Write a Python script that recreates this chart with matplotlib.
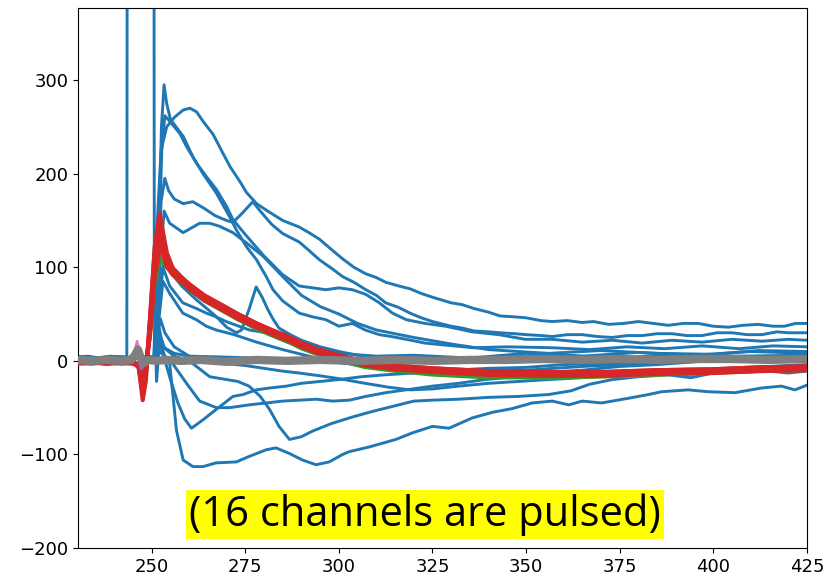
import matplotlib
matplotlib.use("Agg")
import matplotlib.pyplot as plt

# ---- waveform data: sample time (ns) vs amplitude (ADC counts) ----

# pulsed channel: saturates off-scale between the two edges
pulse_t = [230, 233, 236, 239, 242, 243.35, 243.6, 250.45, 250.7, 251.3, 252.2, 253.4, 256, 260, 270, 285, 300, 330, 360, 390, 425]
pulse_v = [4, 5, 3, 5, 4, 4, 1200, 1200, 60, -22, 28, 14, 8, 5, 4, 2, 3, 1, 3, 2, 3]

hump_t = [230, 240, 249.5, 250.6, 251.5, 252.5, 254, 256, 258.4, 260.2, 262, 263.7, 266.4, 269, 271, 273.5, 275.3, 278, 281, 285,
          289.4, 292, 294.8, 298, 301, 304, 307.2, 310, 312.5, 316, 319, 322, 325, 330, 333, 336, 340, 343, 347, 350, 354, 357,
          361, 365, 368, 372, 376, 380, 384, 388, 392, 396, 400, 404, 408, 412, 416, 419, 422, 425]
hump_v = [3, 4, 3, 5, 150, 225, 250, 260, 268, 270, 266, 256, 242, 222, 207, 192, 180, 168, 160, 150,
          143, 137, 130, 119, 109, 100, 93, 89, 84, 80, 77, 72, 68, 62, 60, 56, 52, 48, 47, 46, 43, 42,
          43, 41, 42, 39, 40, 42, 40, 38, 40, 40, 37, 36, 38, 39, 37, 37, 40, 40]

tent_t = [230, 240, 249.5, 250.6, 251.5, 252.5, 253.5, 254.5, 256, 258.4, 261, 264, 267, 270, 271.7, 274, 277, 279, 282, 285,
          289.4, 292, 294.8, 298, 301, 304, 307.2, 310, 312.5, 316, 319, 322, 325, 330, 333, 336, 340, 343, 347, 350, 354, 357,
          361, 365, 369, 373, 377, 381, 385, 389, 393, 397, 401, 405, 409, 413, 417, 420, 425]
tent_v = [4, 3, 4, 4, 80, 170, 195, 182, 173, 168, 170, 163, 155, 150, 148, 157, 170, 160, 146, 136,
          127, 118, 108, 99, 90, 84, 76, 70, 62, 57, 51, 46, 42, 37, 35, 32, 31, 30, 29, 28, 27, 26,
          28, 28, 26, 25, 27, 27, 29, 29, 27, 27, 30, 30, 28, 28, 31, 30, 30]

spike_t = [230, 240, 249.5, 250.8, 251.8, 252.6, 253.3, 254, 255, 256.5, 258.4, 261, 263.7, 267.3, 270.8, 272.6, 275.3, 278,
           280.6, 282.4, 285, 289.4, 293, 296.5, 300, 303.6, 307, 310.8, 314, 318, 323, 328, 336, 345, 357, 367, 377, 387,
           397, 407, 416, 425]
spike_v = [3, 4, 3, 5, 120, 250, 295, 275, 258, 250, 240, 218, 200, 179, 154, 140, 122, 108,
           90, 76, 64, 51, 47, 44, 37, 40, 33, 28, 26, 23, 19, 17, 14, 15, 14, 12, 15, 13,
           16, 13, 16, 15]

second_t = [230, 240, 249.5, 250.8, 251.8, 252.7, 253.5, 254.8, 257.5, 259.3, 262, 264.6, 267.3, 270, 271.7, 275, 280, 285,
            289.4, 293, 296.5, 300, 303.6, 307.2, 310.8, 314.3, 318, 323, 328.5, 335.6, 342.7, 349.8, 357, 365, 373, 381,
            389, 397, 405, 413, 420, 425]
second_v = [4, 3, 4, 3, 110, 225, 262, 256, 243, 229, 211, 197, 183, 165, 151, 135, 112, 92,
            80, 78, 76, 78, 76, 71, 62, 51, 44, 40, 37, 31, 28, 23, 23, 20, 22, 19,
            22, 20, 23, 21, 23, 22]

mid_t = [230, 240, 249.5, 250.8, 252, 253.3, 254.8, 258.4, 262.8, 265.5, 268, 271.7, 275.3, 279.7, 285, 290, 295, 300, 305,
         310, 320, 330, 340, 356, 370, 385, 400, 412, 425]
mid_v = [3, 4, 4, 3, 90, 160, 147, 137, 147, 147, 144, 137, 126, 112, 90, 70, 58, 50, 40,
         33, 25, 18, 12, 8, 11, 8, 7, 11, 10]

low1_t = [230, 240, 249.5, 250.8, 251.6, 253, 254.8, 258.3, 261.9, 264.6, 267.2, 269.9, 272.6, 276.1, 280.5, 285, 289.4, 294.8,
          300, 310, 320, 335, 350, 365, 380, 395, 410, 425]
low1_v = [3, 4, 3, 4, 40, 100, 80, 62, 56, 51, 47, 42, 38, 33, 30, 22, 15, 12,
          8, 5, 6, 3, 8, 5, 9, 6, 10, 8]

low2_t = [230, 240, 249.5, 250.8, 251.8, 253, 254.8, 258.3, 261.9, 264.6, 267.2, 272, 278, 285, 292, 300, 310, 320, 335, 350,
          365, 380, 400, 425]
low2_v = [4, 3, 4, 3, 40, 85, 72, 51, 44, 37, 33, 28, 20, 12, 5, -2, -6, -10, -12, -10,
          -6, -3, 0, 2]

notch_t = [230, 240, 249.5, 250.8, 251.5, 252.5, 253.5, 255, 258, 262, 265, 267.3, 270, 272.6, 274, 276, 277.9, 279.5, 281,
           282.5, 284, 287, 290, 295, 300, 305, 312, 320, 330, 345, 360, 375, 390, 405, 425]
notch_v = [3, 3, 4, 4, 30, 90, 110, 95, 80, 65, 55, 47, 36, 30, 33, 55, 79, 68, 55,
           44, 35, 28, 22, 15, 10, 6, 3, 1, 0, 4, 6, 3, 7, 5, 6]

neg1_t = [230, 240, 249.5, 250.8, 252, 253.5, 255.6, 259.3, 262.8, 267.3, 270.8, 276.1, 280.6, 285, 289.5, 294, 298.3, 302.8,
          307.2, 312.5, 317.9, 325, 332, 339, 347, 356, 365, 375, 385, 395, 405, 415, 425]
neg1_v = [4, 3, 4, 3, 10, 5, -3, -24, -43, -50, -50, -47, -45, -43, -42, -41, -43, -42,
          -38, -34, -31, -27, -24, -20, -17, -12, -10, -6, -4, -1, 2, 0, 3]

neg2_t = [230, 240, 249.5, 250.8, 252, 253.2, 255, 257, 258.8, 260.6, 262, 263.7, 267.2, 271.7, 274.4, 277.9, 281.5, 286, 290,
          295, 300, 306, 312, 320, 330, 340, 350, 360, 375, 390, 405, 425]
neg2_v = [3, 4, 3, 3, 20, 5, -20, -45, -62, -72, -68, -63, -52, -38, -36, -31, -29, -27, -24,
          -22, -20, -17, -15, -13, -10, -8, -7, -4, -2, 1, 3, 5]

neg3_t = [230, 240, 249.5, 250.8, 252.3, 253.5, 256, 260, 265, 270, 275, 280, 285, 289.4, 295, 300, 307, 313, 319, 325, 332,
          340, 348, 356, 365, 375, 385, 395, 405, 415, 425]
neg3_v = [4, 3, 3, 4, 45, 30, 15, 5, 0, -3, -5, -8, -11, -13, -16, -19, -24, -28, -31, -30, -27,
          -24, -22, -20, -18, -15, -13, -11, -9, -6, -4]

dip_t = [230, 240, 249.5, 250.8, 252, 253, 256, 258.5, 261, 265.5, 270, 273, 276, 279, 281.5, 284, 286.8, 290, 293, 298,
         303.6, 309, 314, 320, 325, 332, 340, 348, 356, 362, 367, 373, 380, 388, 394, 400, 408, 415, 420, 425]
dip_v = [4, 3, 4, 3, 35, 15, 5, 2, -3, -17, -20, -22, -27, -38, -52, -70, -84, -81, -75, -67,
         -60, -54, -49, -43, -42, -41, -39, -38, -36, -32, -25, -20, -17, -15, -18, -13, -12, -11, -13, -11]

bottom_t = [230, 240, 249.5, 250.8, 252.2, 253.5, 254.8, 255.7, 256.6, 258.4, 261, 263.7, 267.2, 272.6, 276.1, 280.6, 283.2,
            286.8, 290.3, 293.9, 297.4, 301, 302.8, 308.1, 315.2, 319.6, 325, 329.4, 335.6, 341, 346.3, 351.6, 357, 361.4,
            365, 370.2, 377.3, 382.7, 386.2, 393.3, 398.7, 405.8, 412.9, 418.2, 421.8, 425]
bottom_v = [3, 4, 3, 3, 20, 5, -3, -38, -74, -106, -113, -113, -109, -108, -102, -95, -93,
            -99, -106, -111, -108, -100, -97, -92, -84, -77, -70, -72, -61, -55, -51, -45, -43, -47,
            -43, -45, -40, -36, -33, -31, -33, -34, -29, -27, -31, -26]

# neighbouring channels (red group, plus single orange / green traces)
group_t = [230, 234, 238, 242, 245, 246.5, 247.6, 248.4, 249.5, 250.8, 252.1, 253, 254, 255.6, 258, 260, 264, 269, 273, 278,
           282, 287, 290, 294, 298, 303, 307, 315, 325, 340, 357, 370, 385, 400, 412, 425]
red_1 = [-2, -1, -3, -1, -2, -6, -42, -22, 40, 122, 157, 138, 116, 99, 89, 82, 70, 59, 50, 40,
         33, 25, 19, 13, 8, 3, -1, -5, -8, -11, -12, -12, -10, -9, -7, -6]
red_2 = [-1, -2, -1, -2, -1, -5, -36, -18, 44, 118, 150, 134, 112, 99, 89, 82, 70, 59, 50, 40,
         33, 25, 19, 13, 8, 3, -1, -5, -8, -11, -12, -12, -10, -9, -7, -6]
red_3 = [-3, -2, -2, -3, -2, -7, -30, -15, 38, 110, 143, 128, 108, 94, 84, 77, 65, 54, 45, 36,
         29, 21, 15, 9, 4, -1, -5, -9, -12, -15, -16, -16, -14, -13, -11, -10]
red_4 = [-2, -3, -1, -2, -3, -4, -25, -12, 35, 104, 136, 124, 106, 95, 86, 79, 67, 56, 47, 37,
         30, 22, 16, 10, 5, 0, -4, -8, -11, -14, -15, -15, -13, -12, -10, -9]
red_5 = [-1, -1, -2, -1, -1, -5, -20, -10, 30, 96, 128, 120, 104, 93, 85, 78, 66, 55, 46, 37,
         30, 22, 16, 10, 5, 0, -3, -7, -10, -12, -13, -13, -11, -10, -8, -7]
red_6 = [-2, -2, -3, -2, -2, -4, -14, -8, 26, 88, 120, 114, 101, 92, 84, 78, 66, 55, 46, 36,
         29, 21, 15, 9, 4, -1, -4, -8, -11, -14, -15, -14, -13, -11, -9, -8]
orange_v = [-1, 0, -2, -1, 0, -3, -12, -6, 24, 86, 118, 112, 100, 95, 87, 81, 69, 58, 50, 40,
            32, 24, 17, 11, 6, 0, -5, -10, -14, -17, -18, -17, -15, -13, -11, -10]
green_v = [-3, -2, -3, -2, -3, -5, -16, -8, 25, 80, 108, 104, 100, 92, 83, 76, 64, 53, 44, 34,
           27, 19, 13, 7, 2, -3, -7, -11, -15, -18, -18, -17, -15, -13, -11, -10]

# far channels, essentially flat
purple_t = [230, 240, 245, 246.2, 247.2, 248.2, 250, 260, 300, 350, 425]
purple_v = [-2, -1, -1, 5, -9, -3, -1, 0, 1, 0, 1]
pink_t = [230, 238, 244, 245.3, 246.1, 247, 248, 252, 260, 280, 300, 330, 360, 390, 425]
pink_v = [-1, 0, 0, 8, 21, 6, -1, 2, 0, 1, 0, 2, 1, 3, 2]
gray_t = [230, 234, 238, 242, 244.5, 245.5, 246.3, 247.1, 248, 249, 251, 254, 258, 263, 270, 278, 286, 295, 305, 315, 325,
          335, 345, 355, 365, 375, 385, 395, 405, 415, 425]
gray_v = [1, 0, 1, 0, 1, 6, 12, 3, -2, 1, 0, 1, 0, 1, -1, 1, 0, 1, 0, 1, 0,
          1, 1, 2, 1, 2, 1, 2, 2, 1, 2]

x_ticks = [250, 275, 300, 325, 350, 375, 400, 425]
y_ticks = [-200, -100, 0, 100, 200, 300]
note = "(16 channels are pulsed)"

blue_traces = [
    (pulse_t, pulse_v), (hump_t, hump_v), (tent_t, tent_v), (spike_t, spike_v),
    (second_t, second_v), (mid_t, mid_v), (low1_t, low1_v), (low2_t, low2_v),
    (notch_t, notch_v), (neg1_t, neg1_v), (neg2_t, neg2_v), (neg3_t, neg3_v),
    (dip_t, dip_v), (bottom_t, bottom_v),
]
red_traces = [red_1, red_2, red_3, red_4, red_5, red_6]

fig = plt.figure(figsize=(8.25, 5.86), dpi=100)
ax = fig.add_axes([0.0945, 0.0648, 0.8835, 0.9215])

for t, v in blue_traces:
    ax.plot(t, v, color="C0", lw=2.1, zorder=2)
ax.plot(group_t, orange_v, color="C1", lw=2.5, zorder=3)
ax.plot(group_t, green_v, color="C2", lw=2.5, zorder=3)
for v in red_traces:
    ax.plot(group_t, v, color="C3", lw=3.0, zorder=4)
ax.plot(purple_t, purple_v, color="C4", lw=1.8, zorder=5)
ax.plot(pink_t, pink_v, color="C6", lw=1.8, zorder=5)
ax.plot(gray_t, gray_v, color="C7", lw=6, zorder=6)

ax.set_xlim(230.3, 425)
ax.set_ylim(-200, 377)
ax.set_xticks(x_ticks)
ax.set_yticks(y_ticks)
ax.tick_params(labelsize=13)

fig.text(0.515, 0.122, note, ha="center", va="center", fontsize=30,
         family=["Open Sans", "DejaVu Sans"], color="black", zorder=10,
         bbox=dict(facecolor="#ffff00", edgecolor="none", pad=2.5))

fig.savefig("out.png", dpi=100)
